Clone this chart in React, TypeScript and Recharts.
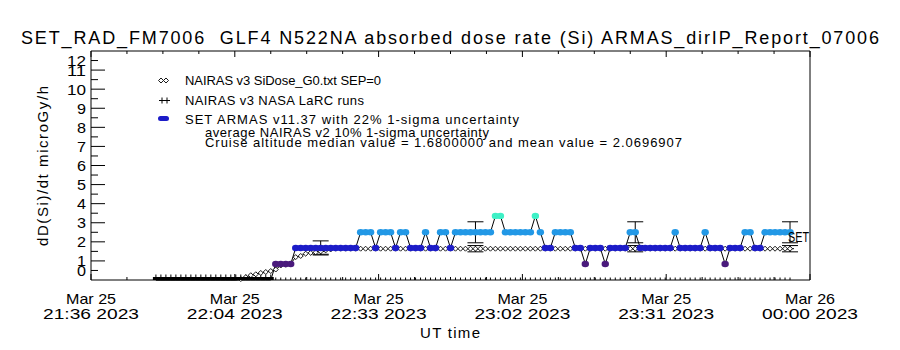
import { ComposedChart, ErrorBar, Line, Scatter, XAxis, YAxis } from "recharts";

// sample times, minutes after Mar 25 21:36 UT (one record per minute)
const minutes = Array.from({ length: 128 }, (_, i) => 13 + i);

// SET ARMAS v11.37 dose rate, microGy/h
const armas = [
  0, 0, 0, 0, 0, 0, 0, 0, 0, 0,
  0, 0, 0, 0, 0, 0, 0, 0, 0, 0,
  0, 0, 0, 0, 0.84, 0.84, 0.84, 0.84, 1.68, 1.68,
  1.68, 1.68, 1.68, 1.68, 1.68, 1.68, 1.68, 1.68, 1.68, 1.68,
  1.68, 2.5, 2.5, 2.5, 1.68, 2.5, 2.5, 2.5, 1.68, 2.5,
  2.5, 1.68, 1.68, 1.68, 2.5, 1.68, 1.68, 2.5, 2.5, 1.68,
  2.5, 2.5, 2.5, 2.5, 2.5, 2.5, 2.5, 2.5, 3.36, 3.36,
  2.5, 2.5, 2.5, 2.5, 2.5, 2.5, 3.36, 2.5, 1.68, 1.68,
  2.5, 2.5, 2.5, 2.5, 1.68, 1.68, 0.84, 1.68, 1.68, 1.68,
  0.84, 1.68, 1.68, 1.68, 1.68, 2.5, 2.5, 1.68, 1.68, 1.68,
  1.68, 1.68, 1.68, 1.68, 2.5, 1.68, 1.68, 1.68, 1.68, 1.68,
  2.5, 1.68, 1.68, 1.68, 0.84, 1.68, 1.68, 1.68, 2.5, 2.5,
  1.68, 1.68, 2.5, 2.5, 2.5, 2.5, 2.5, 2.5,
];

// NAIRAS v3 SiDose_G0 model, microGy/h
const nairas = [
  0, 0, 0, 0, 0, 0, 0, 0, 0, 0,
  0, 0, 0, 0, 0, 0, 0, 0.05, 0.15, 0.25,
  0.3, 0.37, 0.42, 0.47, 0.55, 0.76, 0.8, 0.86, 1.2, 1.26,
  1.38, 1.42, 1.45, 1.5, 1.55, 1.6, 1.64, 1.64, 1.64, 1.64,
  1.64, 1.64, 1.64, 1.64, 1.64, 1.64, 1.64, 1.64, 1.64, 1.64,
  1.64, 1.64, 1.64, 1.64, 1.64, 1.64, 1.64, 1.64, 1.64, 1.64,
  1.64, 1.64, 1.64, 1.64, 1.64, 1.64, 1.64, 1.64, 1.64, 1.64,
  1.64, 1.64, 1.64, 1.64, 1.64, 1.64, 1.64, 1.64, 1.64, 1.64,
  1.64, 1.64, 1.64, 1.64, 1.64, 1.64, 1.64, 1.64, 1.64, 1.64,
  1.64, 1.64, 1.64, 1.64, 1.64, 1.64, 1.64, 1.64, 1.64, 1.64,
  1.64, 1.64, 1.64, 1.64, 1.64, 1.64, 1.64, 1.64, 1.64, 1.64,
  1.64, 1.64, 1.64, 1.64, 1.64, 1.64, 1.64, 1.64, 1.64, 1.64,
  1.64, 1.64, 1.64, 1.64, 1.64, 1.64, 1.64, 1.64,
];

// NAIRAS v3 NASA LaRC runs (with 10% uncertainty) and ARMAS at those times (22%)
const larcMinutes = [46, 77, 109, 140];
const larcValues = [1.5, 1.64, 1.64, 1.64];
const armasAtLarc = [1.68, 2.5, 2.5, 2.5];

const xTicks = [0, 7.2, 14.4, 21.6, 28.8, 36, 43.2, 50.4, 57.6, 64.8, 72, 79.2, 86.4, 93.6, 100.8, 108, 115.2, 122.4, 129.6, 136.8, 144];
const xDateLabels = ["Mar 25", "Mar 25", "Mar 25", "Mar 25", "Mar 25", "Mar 26"];
const xTimeLabels = ["21:36 2023", "22:04 2023", "22:33 2023", "23:02 2023", "23:31 2023", "00:00 2023"];
const yTicks = [0, 0.5, 1, 1.5, 2, 2.5, 3, 3.5, 4, 4.5, 5, 5.5, 6, 6.5, 7, 7.5, 8, 8.5, 9, 9.5, 10, 10.5, 11, 11.5, 12];

const rows = minutes.map((t, i) => ({ t, armas: armas[i], nairas: nairas[i] }));
const rug = minutes.map((t) => ({ t, v: 0 }));
const larc = larcMinutes.map((t, i) => ({ t, v: larcValues[i], err: larcValues[i] * 0.1 }));
const armasErr = larcMinutes.map((t, i) => ({ t, v: armasAtLarc[i], err: armasAtLarc[i] * 0.22 }));

const FONT = "'Liberation Sans', Arial, sans-serif";

function doseColor(v: number) {
  if (v < 0.4) return "#000000";
  if (v < 1.2) return "#4a1a7c";
  if (v < 2.1) return "#1c1cc8";
  if (v < 3) return "#2298e6";
  return "#3ef0c6";
}

function ArmasDot(props: any) {
  const { cx, cy, payload, index } = props;
  if (cx == null || cy == null) return <g key={`a${index}`} />;
  // ground values sit on the axis: only the upper half of the symbol shows
  if (payload.armas < 0.4) return <rect key={`a${index}`} x={cx - 3} y={cy - 3} width={6} height={3} fill="#000" />;
  return <ellipse key={`a${index}`} cx={cx} cy={cy} rx={3.7} ry={3.2} fill={doseColor(payload.armas)} />;
}

function Diamond(props: any) {
  const { cx, cy, index, payload } = props;
  if (cx == null || cy == null) return <g key={`n${index}`} />;
  if (payload.nairas < 0.02) {
    return (
      <path key={`n${index}`} d={`M${cx - 2.5},${cy} L${cx},${cy - 2.5} L${cx + 2.5},${cy}`} fill="none" stroke="#000" strokeWidth={0.9} />
    );
  }
  return (
    <path
      key={`n${index}`}
      d={`M${cx - 2.5},${cy} L${cx},${cy - 2.5} L${cx + 2.5},${cy} L${cx},${cy + 2.5} Z`}
      fill="#fff"
      stroke="#000"
      strokeWidth={0.9}
    />
  );
}

function RugTick(props: any) {
  const { cx, cy, payload } = props;
  const ground = rows.find((r) => r.t === payload.t)?.armas === 0;
  return <line x1={cx} x2={cx} y1={cy} y2={cy - (ground ? 5.5 : 2.5)} stroke="#000" strokeWidth={1} />;
}

function Plus(props: any) {
  const { cx, cy } = props;
  return (
    <g stroke="#000" strokeWidth={1}>
      <line x1={cx - 4} x2={cx + 4} y1={cy} y2={cy} />
      <line x1={cx} x2={cx} y1={cy - 3} y2={cy + 3} />
    </g>
  );
}

function NoShape() {
  return <g />;
}

function LeftTick(props: any) {
  const { x, y, payload } = props;
  const v = payload.value;
  const major = Number.isInteger(v);
  const shift = v === 0 ? -9.5 : v === 12 ? 9 : 0;
  const show = major && v > 0 && v < 12;
  return (
    <g>
      {show && <line x1={x} x2={x + 14} y1={y} y2={y} stroke="#000" />}
      {!major && <line x1={x} x2={x + 7} y1={y} y2={y} stroke="#000" />}
      {major && (
        <text
          x={x - 5}
          y={y + shift + 5.5}
          textAnchor="end"
          fontSize={15}
          fontFamily={FONT}
          fill="#000"
          textLength={v >= 10 ? 19 : 9}
          lengthAdjust="spacingAndGlyphs"
        >
          {String(v)}
        </text>
      )}
    </g>
  );
}

function RightTick(props: any) {
  const { x, y, payload } = props;
  const v = payload.value;
  const major = Number.isInteger(v);
  if (major && (v === 0 || v === 12)) return <g />;
  return <line x1={x} x2={x - (major ? 14 : 7)} y1={y} y2={y} stroke="#000" />;
}

function BottomTick(props: any) {
  const { x, y, index } = props;
  const major = index % 4 === 0;
  const k = index / 4;
  return (
    <g>
      <line x1={x} x2={x} y1={y} y2={y - (major ? 6 : 3)} stroke="#000" />
      {major && (
        <g fontFamily={FONT} fontSize={15} fill="#000">
          <text x={x} y={y + 24} textAnchor="middle" textLength={50} lengthAdjust="spacingAndGlyphs">
            {xDateLabels[k]}
          </text>
          <text x={x} y={y + 39} textAnchor="middle" textLength={96} lengthAdjust="spacingAndGlyphs">
            {xTimeLabels[k]}
          </text>
        </g>
      )}
    </g>
  );
}

function TopTick(props: any) {
  const { x, y, index } = props;
  const major = index % 4 === 0;
  return <line x1={x} x2={x} y1={y} y2={y + (major ? 6 : 3)} stroke="#000" />;
}

const legendLines = [
  { text: "NAIRAS v3 SiDose_G0.txt SEP=0", x: 185, y: 85, len: 196 },
  { text: "NAIRAS v3 NASA LaRC runs", x: 185, y: 105, len: 179 },
  { text: "SET ARMAS v11.37 with 22% 1-sigma uncertainty", x: 185, y: 124, len: 334 },
  { text: "average NAIRAS v2 10% 1-sigma uncertainty", x: 205, y: 137, len: 284 },
  { text: "Cruise altitude median value = 1.6800000 and mean value = 2.0696907", x: 205, y: 146.5, len: 477 },
];

export default function App() {
  return (
    <div style={{ position: "absolute", left: 0, top: 0, width: 900, height: 350, background: "#fff" }}>
      <ComposedChart width={900} height={350} data={rows} margin={{ top: 31, right: 30, bottom: 30, left: 31 }}>
        <XAxis
          dataKey="t"
          type="number"
          domain={[0, 144]}
          ticks={xTicks}
          interval={0}
          height={40}
          tickSize={0}
          tickMargin={0}
          tick={BottomTick}
          axisLine={{ stroke: "#000" }}
          tickLine={false}
        />
        <XAxis
          xAxisId="top"
          orientation="top"
          dataKey="t"
          type="number"
          domain={[0, 144]}
          ticks={xTicks}
          interval={0}
          height={20}
          tickSize={0}
          tickMargin={0}
          tick={TopTick}
          axisLine={{ stroke: "#000" }}
          tickLine={false}
        />
        <YAxis
          type="number"
          domain={[0, 12]}
          ticks={yTicks}
          interval={0}
          width={60}
          tickSize={0}
          tickMargin={0}
          tick={LeftTick}
          axisLine={{ stroke: "#000" }}
          tickLine={false}
        />
        <YAxis
          yAxisId="right"
          orientation="right"
          type="number"
          domain={[0, 12]}
          ticks={yTicks}
          interval={0}
          width={60}
          tickSize={0}
          tickMargin={0}
          tick={RightTick}
          axisLine={{ stroke: "#000" }}
          tickLine={false}
        />
        <Line
          dataKey="nairas"
          type="linear"
          stroke="#000"
          strokeWidth={1}
          dot={Diamond}
          activeDot={false}
          isAnimationActive={false}
        />
        <Line
          dataKey="armas"
          type="linear"
          stroke="#000"
          strokeWidth={1}
          dot={ArmasDot}
          activeDot={false}
          isAnimationActive={false}
        />
        <Scatter data={rug} dataKey="v" shape={RugTick} isAnimationActive={false} />
        <Scatter data={armasErr} dataKey="v" shape={NoShape} isAnimationActive={false}>
          <ErrorBar dataKey="err" direction="y" width={8} stroke="#000" strokeWidth={1} isAnimationActive={false} />
        </Scatter>
        <Scatter data={larc} dataKey="v" shape={Plus} isAnimationActive={false}>
          <ErrorBar dataKey="err" direction="y" width={8} stroke="#000" strokeWidth={1} isAnimationActive={false} />
        </Scatter>
      </ComposedChart>
      <svg
        width={900}
        height={350}
        style={{ position: "absolute", left: 0, top: 0, pointerEvents: "none" }}
        fontFamily={FONT}
      >
        <text
          x={450}
          y={44}
          textAnchor="middle"
          fontSize={18}
          textLength={858}
          lengthAdjust="spacing"
          style={{ whiteSpace: "pre" }}
        >
          {"SET_RAD_FM7006  GLF4 N522NA absorbed dose rate (Si) ARMAS_dirIP_Report_07006"}
        </text>
        <text
          x={0}
          y={0}
          transform="translate(48,166) rotate(-90)"
          textAnchor="middle"
          fontSize={15}
          textLength={160}
          lengthAdjust="spacing"
        >
          dD(Si)/dt microGy/h
        </text>
        <text x={450} y={338} textAnchor="middle" fontSize={15} textLength={60} lengthAdjust="spacing">
          UT time
        </text>
        <text x={788} y={242} fontSize={14} textLength={21} lengthAdjust="spacingAndGlyphs">
          SET
        </text>
        {legendLines.map((l) => (
          <text key={l.text} x={l.x} y={l.y} fontSize={13} textLength={l.len} lengthAdjust="spacing">
            {l.text}
          </text>
        ))}
        <g stroke="#000" strokeWidth={0.9} fill="#fff">
          <path d="M158.5,80.5 L161,78 L163.5,80.5 L161,83 Z" />
          <path d="M163.5,80.5 L166,78 L168.5,80.5 L166,83 Z" />
        </g>
        <g stroke="#000" strokeWidth={1}>
          <line x1={159} x2={170} y1={100.5} y2={100.5} />
          <line x1={162} x2={162} y1={97.5} y2={103.5} />
          <line x1={167} x2={167} y1={97.5} y2={103.5} />
        </g>
        <rect x={158} y={116} width={11} height={5} rx={2.5} fill="#1c1cc8" />
      </svg>
    </div>
  );
}
